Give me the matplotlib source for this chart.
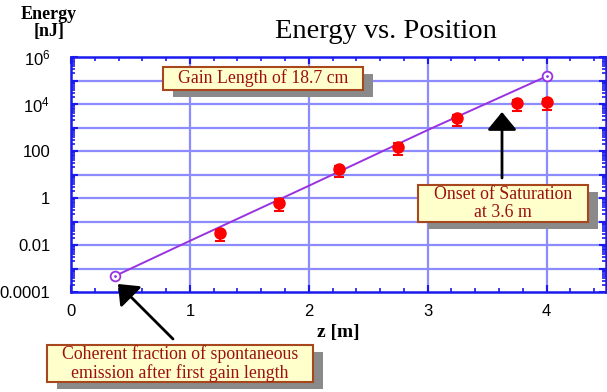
import matplotlib
matplotlib.use("Agg")
import matplotlib.pyplot as plt
import matplotlib.ticker as ticker
from matplotlib.patches import Rectangle

# data
z_meas = [1.25, 1.75, 2.25, 2.75, 3.25, 3.75, 4.0]
e_meas = [0.032, 0.62, 17, 150, 2500, 11000, 12000]
e_low = [0.0145, 0.28, 7.7, 68, 1140, 5000, 5450]
e_high = [0.045, 0.87, 24, 210, 3500, 15400, 16800]

z_fit = [0.37, 1.0, 2.0, 3.0, 4.0]
e_fit = [4.8e-4, 0.015, 3.3, 780, 1.5e5]

y_ticks = [1e-4, 1e-3, 1e-2, 1e-1, 1, 10, 100, 1e3, 1e4, 1e5, 1e6]
y_labels = ["0.0001", "", "0.01", "", "1", "", "100", "", "$10^4$", "", "$10^6$"]
x_ticks = [0, 1, 2, 3, 4]

W, H = 607, 392
plt.rcParams["mathtext.default"] = "regular"

fig = plt.figure(figsize=(W / 100, H / 100), dpi=100)
ax = fig.add_axes([71 / W, 1 - 292 / H, 535 / W, 235 / H])

spine_blue = "#1a1aee"
grid_blue = "#8c8cff"

ax.set_yscale("log")
ax.set_xlim(0, 4.5)
ax.set_ylim(1e-4, 1e6)

# grid
for zx in x_ticks[1:]:
    ax.axvline(zx, color=grid_blue, lw=1.6, zorder=1)
for yy in y_ticks[1:-1]:
    ax.axhline(yy, color=grid_blue, lw=1.6, zorder=1)

# fit line with open circles at ends
ax.plot(z_fit, e_fit, color="#9932e0", lw=1.4, zorder=3)
ax.plot([z_fit[0], z_fit[-1]], [e_fit[0], e_fit[-1]], "o", ms=7, mfc="white",
        mec="#9932e0", mew=1.3, zorder=4)
ax.plot([z_fit[0], z_fit[-1]], [e_fit[0], e_fit[-1]], ".", ms=2,
        color="#9932e0", zorder=5)

# measured points
yerr = [[m - lo for m, lo in zip(e_meas, e_low)],
        [hi - m for m, hi in zip(e_meas, e_high)]]
ax.errorbar(z_meas, e_meas, yerr=yerr, fmt="o", color="red", ms=8,
            elinewidth=1.5, capsize=3.5, capthick=1.5, zorder=6)

# axes styling
for s in ax.spines.values():
    s.set_color(spine_blue)
    s.set_linewidth(1.8)

ax.xaxis.set_major_locator(ticker.FixedLocator(x_ticks))
ax.xaxis.set_minor_locator(ticker.MultipleLocator(0.2))
ax.yaxis.set_major_locator(ticker.FixedLocator(y_ticks))
ax.yaxis.set_major_formatter(ticker.FixedFormatter(y_labels))
ax.yaxis.set_minor_locator(ticker.LogLocator(base=10, subs=range(2, 10), numticks=20))
ax.yaxis.set_minor_formatter(ticker.NullFormatter())

ax.tick_params(which="both", direction="in", color=spine_blue, top=True, right=True,
               labelsize=12, labelcolor="black")
ax.tick_params(which="major", length=5, width=1.5)
ax.tick_params(which="minor", length=3, width=1.2)
ax.tick_params(axis="x", which="major", pad=9)
ax.tick_params(axis="y", which="major", pad=15)
for lab in ax.get_xticklabels() + ax.get_yticklabels():
    lab.set_family("Liberation Sans")

# titles
fig.text(386 / W, 1 - 31 / H, "Energy vs. Position", ha="center", va="center",
         family="Liberation Serif", fontsize=20.5)
fig.text(49 / W, 1 - 23 / H, "Energy\n[nJ]", ha="center", va="center",
         family="Liberation Serif", fontweight="bold", fontsize=13, linespacing=1.0)
fig.text(338 / W, 1 - 333 / H, "z [m]", ha="center", va="center",
         family="Liberation Serif", fontweight="bold", fontsize=14)


def note(x0, y0, x1, y1, txt):
    # boxed call-out with gray drop shadow, positions in pixels from top-left
    w, h = (x1 - x0) / W, (y1 - y0) / H
    fig.patches.append(Rectangle(((x0 + 10) / W, 1 - (y1 + 7) / H), w, h,
                                 transform=fig.transFigure, facecolor="#8a8a8a",
                                 edgecolor="none", zorder=10))
    fig.patches.append(Rectangle((x0 / W, 1 - y1 / H), w, h,
                                 transform=fig.transFigure, facecolor="#ffffcc",
                                 edgecolor="#a8461e", lw=1.5, zorder=11))
    fig.text((x0 + x1) / 2 / W, 1 - (y0 + y1) / 2 / H, txt, ha="center", va="center",
             family="Liberation Serif", fontsize=12.8, color="#9c1010",
             linespacing=1.05, zorder=12)


note(163, 67, 363, 90, "Gain Length of 18.7 cm")
note(418, 185, 588, 222, "Onset of Saturation\nat 3.6 m")
note(47, 345, 313, 382, "Coherent fraction of spontaneous\nemission after first gain length")

arrow = dict(arrowstyle="-|>,head_width=0.45,head_length=0.55", color="black",
             lw=2, mutation_scale=20, shrinkA=0, shrinkB=0)
ax.annotate("", xy=(502 / W, 1 - 112 / H), xytext=(502 / W, 1 - 178 / H),
            xycoords="figure fraction", textcoords="figure fraction",
            arrowprops=arrow, annotation_clip=False)
ax.annotate("", xy=(118 / W, 1 - 284 / H), xytext=(173 / W, 1 - 339 / H),
            xycoords="figure fraction", textcoords="figure fraction",
            arrowprops=arrow, annotation_clip=False)

fig.savefig("out.png", dpi=100)
